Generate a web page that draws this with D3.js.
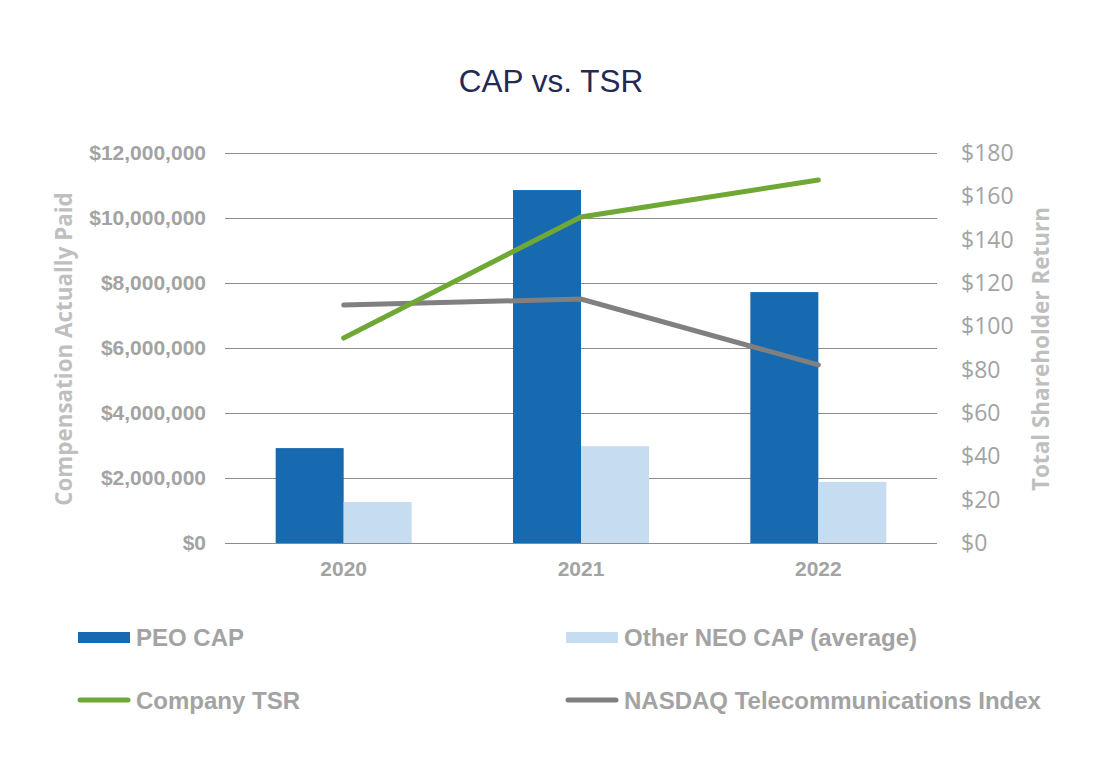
<!DOCTYPE html>
<html><head><meta charset="utf-8">
<script src="https://cdn.jsdelivr.net/npm/d3@7"></script>
<style>body{margin:0;background:#fff}</style>
</head><body>
<script>
const years = ["2020","2021","2022"];
const peoCap = [2920000, 10860000, 7720000];
const neoCap = [1260000, 2980000, 1880000];
const companyTSR = [94.6, 150.5, 167.5];
const nasdaqTSR = [109.8, 112.6, 82.2];
const leftTicks = [0,2000000,4000000,6000000,8000000,10000000,12000000];
const rightTicks = [0,20,40,60,80,100,120,140,160,180];

const W=1114,H=772;
const svg=d3.select("body").append("svg").attr("width",W).attr("height",H);
const m={l:225,r:937,t:153,b:543};
const x=d3.scaleBand().domain(years).range([m.l,m.r]);
const yL=d3.scaleLinear().domain([0,12000000]).range([m.b,m.t]);
const yR=d3.scaleLinear().domain([0,180]).range([m.b,m.t]);
const grey="#a3a3a3";

// gridlines
svg.append("g").selectAll("line").data(leftTicks).join("line")
 .attr("x1",m.l).attr("x2",m.r).attr("y1",d=>yL(d)+0.5).attr("y2",d=>yL(d)+0.5)
 .attr("stroke","#8c8c8c").attr("stroke-width",1);

// left axis
const axL=d3.axisLeft(yL).tickValues(leftTicks).tickSize(0).tickPadding(0)
 .tickFormat(d=>"$"+d3.format(",")(d));
svg.append("g").attr("transform",`translate(${m.l-19},0)`).call(axL)
 .call(g=>g.select(".domain").remove())
 .selectAll("text").attr("fill",grey).style("font-family","Liberation Sans, Arial, sans-serif")
 .style("font-weight","bold").style("font-size","21px");

// right axis
const axR=d3.axisRight(yR).tickValues(rightTicks).tickSize(0).tickPadding(0)
 .tickFormat(d=>"$"+d);
svg.append("g").attr("transform",`translate(${m.r+24},0)`).call(axR)
 .call(g=>g.select(".domain").remove())
 .selectAll("text").attr("fill",grey).style("font-family","Open Sans, Noto Sans, sans-serif")
 .style("font-size","23px");

// x axis
const axX=d3.axisBottom(x).tickSize(0).tickPadding(0);
svg.append("g").attr("transform",`translate(0,${m.b+18})`).call(axX)
 .call(g=>g.select(".domain").remove())
 .selectAll("text").attr("fill",grey).attr("dy","0.71em").style("font-family","Liberation Sans, Arial, sans-serif")
 .style("font-weight","bold").style("font-size","21px");

// bars
const bw=68;
svg.append("g").selectAll("rect").data(years).join("rect")
 .attr("x",d=>x(d)+x.bandwidth()/2-bw).attr("width",bw)
 .attr("y",(d,i)=>yL(peoCap[i])).attr("height",(d,i)=>yL(0)-yL(peoCap[i]))
 .attr("fill","#1769b0");
svg.append("g").selectAll("rect").data(years).join("rect")
 .attr("x",d=>x(d)+x.bandwidth()/2).attr("width",bw)
 .attr("y",(d,i)=>yL(neoCap[i])).attr("height",(d,i)=>yL(0)-yL(neoCap[i]))
 .attr("fill","#c6ddf1");

// lines
const line=d3.line().x((d,i)=>x(years[i])+x.bandwidth()/2).y(d=>yR(d));
svg.append("path").datum(nasdaqTSR).attr("d",line).attr("fill","none")
 .attr("stroke","#808080").attr("stroke-width",5).attr("stroke-linecap","round");
svg.append("path").datum(companyTSR).attr("d",line).attr("fill","none")
 .attr("stroke","#6fa835").attr("stroke-width",5).attr("stroke-linecap","round");

// title
svg.append("text").attr("x",551).attr("y",92).attr("text-anchor","middle")
 .attr("fill","#1f2a55").style("font-family","Liberation Sans, Arial, sans-serif")
 .style("font-size","31.5px").text("CAP vs. TSR");

// axis titles
svg.append("text").attr("transform","translate(72,349) rotate(-90)").attr("text-anchor","middle")
 .attr("fill","#bfbfbf").style("font-family","Open Sans, Noto Sans, sans-serif").style("font-weight","bold")
 .style("font-size","22.4px").text("Compensation Actually Paid");
svg.append("text").attr("transform","translate(1049,349) rotate(-90)").attr("text-anchor","middle")
 .attr("fill","#bfbfbf").style("font-family","Open Sans, Noto Sans, sans-serif").style("font-weight","bold")
 .style("font-size","22.5px").text("Total Shareholder Return");

// legend
const legend=[
 {name:"PEO CAP",type:"rect",color:"#1769b0",x:78,y:637.5},
 {name:"Other NEO CAP (average)",type:"rect",color:"#c6ddf1",x:566,y:637.5},
 {name:"Company TSR",type:"line",color:"#6fa835",x:78,y:700},
 {name:"NASDAQ Telecommunications Index",type:"line",color:"#808080",x:566,y:700}
];
const lg=svg.append("g").selectAll("g").data(legend).join("g").attr("transform",d=>`translate(${d.x},${d.y})`);
lg.filter(d=>d.type==="rect").append("rect").attr("x",0).attr("y",-5.5).attr("width",52).attr("height",11).attr("fill",d=>d.color);
lg.filter(d=>d.type==="line").append("line").attr("x1",2).attr("x2",50).attr("y1",0).attr("y2",0)
 .attr("stroke",d=>d.color).attr("stroke-width",5).attr("stroke-linecap","round");
lg.append("text").attr("x",58).attr("y",0).attr("dy","0.36em").attr("fill",grey)
 .style("font-family","Liberation Sans, Arial, sans-serif").style("font-weight","bold")
 .style("font-size","24px").text(d=>d.name);
</script>
</body></html>
